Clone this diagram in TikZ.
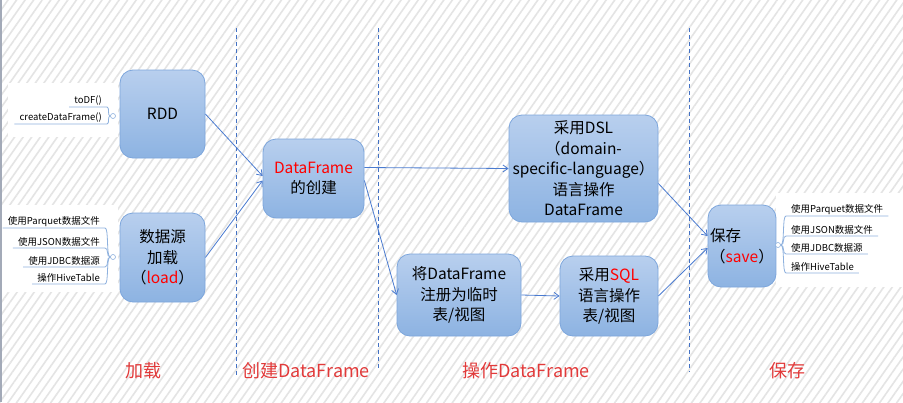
\documentclass[tikz,border=0pt]{standalone}
\usepackage{fontspec}
\setmainfont{Noto Sans CJK SC}
\usetikzlibrary{arrows.meta,patterns.meta,calc}
\definecolor{boxtop}{HTML}{B8CFEE}
\definecolor{boxbot}{HTML}{8DB3E2}
\definecolor{boxline}{HTML}{7DA6DC}
\definecolor{connc}{HTML}{4A7BD0}
\definecolor{dashc}{HTML}{4472C4}
\definecolor{treec}{HTML}{8EB1DE}
\definecolor{labc}{HTML}{E23A3A}
\definecolor{hatchc}{HTML}{E4E4E4}
\definecolor{edgec}{HTML}{A3AAB8}
\begin{document}
\begin{tikzpicture}[x=1pt,y=-1pt,
  box/.style={draw=boxline, line width=0.8pt, rounded corners=13pt, top color=boxtop, bottom color=boxbot, align=center, inner sep=0pt, font=\fontsize{15.5}{20.5}\selectfont},
  conn/.style={draw=connc, line width=0.8pt, -{Straight Barb[length=5pt,width=7pt]}},
  phase/.style={draw=dashc, line width=0.9pt, dash pattern=on 4pt off 3pt},
  phaselabel/.style={text=labc, font=\fontsize{18}{20}\selectfont},
  leaf/.style={font=\fontsize{9.5}{11}\selectfont, inner xsep=5pt, inner ysep=1.5pt},
  branch/.style={draw=treec, line width=0.8pt},
  hub/.style={circle, draw=treec, fill=white, inner sep=0pt, minimum size=5pt, line width=0.6pt},
]
\useasboundingbox (0,0) rectangle (903,402);
\fill[white] (0,0) rectangle (903,402);
\fill[pattern={Lines[angle=55,distance=7pt,line width=1.6pt]}, pattern color=hatchc] (0,0) rectangle (903,402);
\fill[white] (8,83) rectangle (118,137);
\fill[white] (0,205) rectangle (118,292);
\fill[white] (776,193) rectangle (903,287);
\draw[edgec, line width=2pt] (1,0) -- (1,402);

% phase separators
\coordinate (d1t) at (236,28); \coordinate (d1b) at (236,375);
\coordinate (d2t) at (378,28); \coordinate (d2b) at (378,370);
\coordinate (d3t) at (689,28); \coordinate (d3b) at (689,372);
\draw[phase] (d1t) -- (d1b);
\draw[phase] (d2t) -- (d2b);
\draw[phase] (d3t) -- (d3b);

% boxes
\node[box, minimum width=85pt, minimum height=88pt] (rdd) at (162.5,114) {RDD};
\node[box, minimum width=85pt, minimum height=89pt] (load) at (162.5,257.5) {数据源\\加载\\（\textcolor{red}{load}）};
\node[box, minimum width=101pt, minimum height=79pt] (df) at (313.5,178.5) {\textcolor{red}{DataFrame}\\的创建};
\node[box, minimum width=149pt, minimum height=107pt] (dsl) at (583.5,168.5) {采用DSL\\（domain-\\specific-language）\\语言操作\\DataFrame};
\node[box, minimum width=124pt, minimum height=82pt] (reg) at (459,295) {将DataFrame\\注册为临时\\表/视图};
\node[box, minimum width=98pt, minimum height=80pt] (sql) at (609,296) {采用\textcolor{red}{SQL}\\语言操作\\表/视图};
\node[box, minimum width=68pt, minimum height=82pt, align=left] (save) at (742,246) {保存\\（\textcolor{red}{save}）};

% connectors
\draw[conn] (rdd.east) -- ([yshift=2.5pt]df.west);
\draw[conn] (load.east) -- ([yshift=-2pt]df.west);
\draw[conn] ([yshift=11pt]df.east) -- (dsl.west);
\draw[conn] ([yshift=-2pt]df.east) -- (reg.west);
\draw[conn] (reg.east) -- (sql.west);
\draw[conn] ([yshift=-15pt]dsl.east) -- ([yshift=10pt]save.west);
\draw[conn] (sql.east) -- ([yshift=-2pt]save.west);

% left top tree
\node[hub] (h1) at (113,116) {};
\node[leaf, anchor=south east] (a1) at (107,107) {toDF()};
\node[leaf, anchor=south east] (a2) at (107,124) {createDataFrame()};
\draw[branch] (a1.south west) -- (a1.south east) .. controls (110,107) and (107,116) .. (h1.west);
\draw[branch] (a2.south west) -- (a2.south east) .. controls (110,124) and (107,116) .. (h1.west);

% left bottom tree
\node[hub] (h2) at (113,257) {};
\node[leaf, anchor=south east] (b1) at (105,228) {使用Parquet数据文件};
\node[leaf, anchor=south east] (b2) at (105,248) {使用JSON数据文件};
\node[leaf, anchor=south east] (b3) at (105,267) {使用JDBC数据源};
\node[leaf, anchor=south east] (b4) at (105,284) {操作HiveTable};
\draw[branch] (b1.south west) -- (b1.south east) .. controls (109,228) and (106,257) .. (h2.west);
\draw[branch] (b2.south west) -- (b2.south east) .. controls (109,248) and (106,257) .. (h2.west);
\draw[branch] (b3.south west) -- (b3.south east) .. controls (109,267) and (106,257) .. (h2.west);
\draw[branch] (b4.south west) -- (b4.south east) .. controls (109,284) and (106,257) .. (h2.west);

% right tree
\node[hub] (h3) at (778,245) {};
\node[leaf, anchor=south west] (c1) at (786,216) {使用Parquet数据文件};
\node[leaf, anchor=south west] (c2) at (786,236) {使用JSON数据文件};
\node[leaf, anchor=south west] (c3) at (786,254) {使用JDBC数据源};
\node[leaf, anchor=south west] (c4) at (786,273) {操作HiveTable};
\draw[branch] (h3.east) .. controls (785,245) and (782,216) .. (c1.south west) -- (c1.south east);
\draw[branch] (h3.east) .. controls (785,245) and (782,236) .. (c2.south west) -- (c2.south east);
\draw[branch] (h3.east) .. controls (785,245) and (782,254) .. (c3.south west) -- (c3.south east);
\draw[branch] (h3.east) .. controls (785,245) and (782,273) .. (c4.south west) -- (c4.south east);

% phase labels
\node[phaselabel] (p1) at (143,371) {加载};
\node[phaselabel] (p2) at (306,371) {创建DataFrame};
\node[phaselabel] (p3) at (526,371) {操作DataFrame};
\node[phaselabel] (p4) at (787,371) {保存};
\end{tikzpicture}
\end{document}
